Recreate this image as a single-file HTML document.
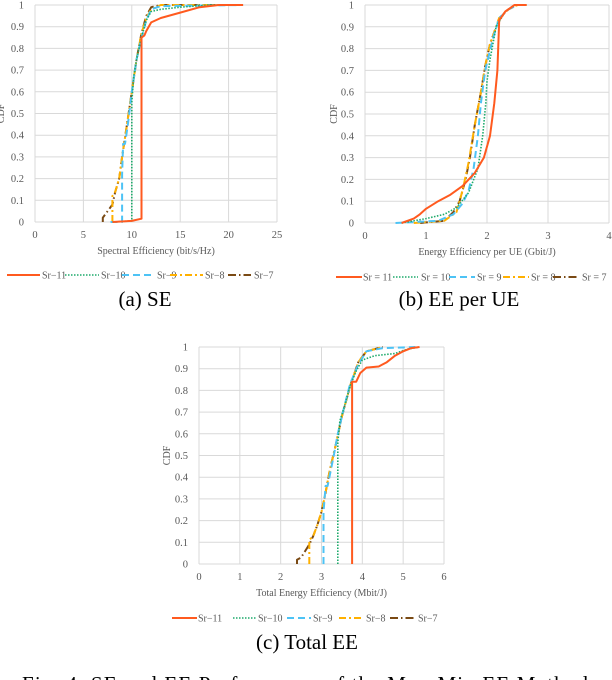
<!DOCTYPE html>
<html><head><meta charset="utf-8">
<style>
html,body{margin:0;padding:0;background:#fff;}
svg{display:block;font-family:"Liberation Serif",serif;}
</style></head>
<body>
<svg id="fig" width="612" height="680" viewBox="0 0 612 680" xmlns="http://www.w3.org/2000/svg"></svg>
<script>
// ---- Data: chart (a) Spectral Efficiency ----
const seTicksX = [0,5,10,15,20,25];
const seSr11 = [[8,0],[10,0.005],[11,0.015],[11,0.85],[11.3,0.86],[11.5,0.88],[12,0.92],[13,0.94],[15,0.965],[17,0.99],[19,1],[21.5,1]];
const seSr10 = [[8,0],[10,0.005],[10,0.55],[10.2,0.67],[10.5,0.75],[11,0.85],[11.5,0.93],[12,0.97],[13,0.98],[15,0.99],[18,1],[21.3,1]];
const seSr9 = [[7.8,0],[9,0],[9,0.22],[9.1,0.36],[9.3,0.36],[9.6,0.45],[10,0.6],[10.5,0.75],[11,0.85],[11.5,0.93],[12,0.98],[13,0.995],[21.5,1]];
const seSr8 = [[8,0],[8,0.12],[8.3,0.14],[8.7,0.2],[9,0.3],[9.5,0.45],[10,0.6],[10.5,0.75],[11,0.87],[11.5,0.94],[12,0.98],[13,1],[21,1]];
const seSr7 = [[7,0],[7,0.02],[7.5,0.05],[8,0.08],[8.3,0.14],[8.7,0.2],[9,0.3],[9.5,0.45],[10,0.6],[10.5,0.75],[11,0.87],[11.5,0.95],[12,0.99],[13,1],[21,1]];
// ---- Data: chart (b) EE per UE ----
const eeTicksX = [0,1,2,3,4];
const eeSr11 = [[0.6,0],[0.8,0.02],[0.9,0.04],[1,0.065],[1.2,0.1],[1.4,0.13],[1.6,0.17],[1.8,0.23],[1.95,0.3],[2.05,0.4],[2.12,0.55],[2.17,0.7],[2.2,0.93],[2.3,0.97],[2.45,1],[2.65,1]];
const eeSr10 = [[0.6,0],[1,0.02],[1.3,0.04],[1.5,0.07],[1.7,0.14],[1.85,0.25],[1.93,0.4],[1.98,0.55],[2.0,0.65],[2.05,0.75],[2.15,0.9],[2.3,0.97],[2.45,1],[2.65,1]];
const eeSr9 = [[0.5,0],[1.2,0.01],[1.45,0.04],[1.6,0.09],[1.7,0.15],[1.78,0.25],[1.85,0.4],[1.9,0.55],[1.97,0.7],[2.1,0.85],[2.2,0.94],[2.35,0.98],[2.5,1],[2.65,1]];
const eeSr8 = [[0.8,0],[1.3,0.01],[1.5,0.05],[1.6,0.15],[1.7,0.28],[1.8,0.45],[1.9,0.6],[1.97,0.72],[2.05,0.82],[2.2,0.94],[2.35,0.98],[2.5,1],[2.65,1]];
const eeSr7 = [[0.9,0],[1.3,0.01],[1.45,0.05],[1.55,0.1],[1.65,0.2],[1.72,0.3],[1.8,0.45],[1.9,0.6],[1.97,0.72],[2.05,0.82],[2.2,0.94],[2.35,0.98],[2.5,1],[2.65,1]];
// ---- Data: chart (c) Total EE ----
const teTicksX = [0,1,2,3,4,5,6];
const teSr11 = [[3.75,0],[3.75,0.84],[3.85,0.84],[3.95,0.88],[4.1,0.905],[4.4,0.91],[4.6,0.93],[4.8,0.96],[5,0.98],[5.2,0.995],[5.4,1]];
const teSr10 = [[3.4,0],[3.4,0.56],[3.45,0.66],[3.55,0.72],[3.7,0.82],[3.85,0.89],[4,0.94],[4.3,0.96],[4.8,0.97],[5.1,0.99],[5.4,1]];
const teSr9 = [[3.05,0],[3.05,0.24],[3.1,0.36],[3.15,0.36],[3.3,0.5],[3.4,0.6],[3.55,0.72],[3.7,0.83],[3.9,0.92],[4.1,0.98],[4.5,0.995],[5.3,1]];
const teSr8 = [[2.7,0],[2.7,0.11],[2.8,0.13],[2.9,0.18],[3,0.24],[3.1,0.33],[3.2,0.43],[3.35,0.55],[3.5,0.68],[3.7,0.82],[3.9,0.93],[4.1,0.98],[4.5,1]];
const teSr7 = [[2.4,0],[2.4,0.02],[2.5,0.03],[2.6,0.06],[2.7,0.09],[2.8,0.13],[2.9,0.18],[3,0.24],[3.1,0.33],[3.2,0.43],[3.35,0.55],[3.5,0.68],[3.7,0.82],[3.9,0.93],[4.1,0.98],[4.5,1]];
const yTicks = [0,0.1,0.2,0.3,0.4,0.5,0.6,0.7,0.8,0.9,1];
const yTickLabels = ["0","0.1","0.2","0.3","0.4","0.5","0.6","0.7","0.8","0.9","1"];

const NS = "http://www.w3.org/2000/svg";
const svg = document.getElementById('fig');
function mk(tag, attrs, parent){const e=document.createElementNS(NS,tag);for(const k in attrs)e.setAttribute(k,attrs[k]);(parent||svg).appendChild(e);return e;}
const styles = [
 {c:"#FF5A1F",w:2,d:""},
 {c:"#1DAA6B",w:1.6,d:"1.5 1.5"},
 {c:"#4DC3F5",w:2,d:"7 4"},
 {c:"#FFB000",w:2,d:"7 3 2 3"},
 {c:"#7A4A14",w:2,d:"8 3 1.5 3"}
];
const seriesNames = ["sr-11","sr-10","sr-9","sr-8","sr-7"];

function chart(cfg){
  const g = mk('g',{});
  
  
  const xs = v => cfg.x0 + (v - cfg.xmin)/(cfg.xmax-cfg.xmin)*(cfg.x1-cfg.x0);
  const ys = v => cfg.y0 - v*(cfg.y0-cfg.y1);
  yTicks.forEach((t,i)=>{
    const l = mk('line',{x1:cfg.x0,x2:cfg.x1,y1:ys(t),y2:ys(t),stroke:"#d9d9d9","stroke-width":1},g);
    
    
    const tx = mk('text',{x:cfg.x0-11,y:ys(t)+3.5,"text-anchor":"end","font-size":10.5,fill:"#595959"},g);
    
    
    tx.textContent = yTickLabels[i];
  });
  cfg.ticksX.forEach(t=>{
    const l = mk('line',{x1:xs(t),x2:xs(t),y1:cfg.y1,y2:cfg.y0,stroke:"#d9d9d9","stroke-width":1},g);
    
    
    const tx = mk('text',{x:xs(t),y:cfg.y0+16,"text-anchor":"middle","font-size":10.5,fill:"#595959"},g);
    
    
    tx.textContent = t;
  });
  const xt = mk('text',{x:(cfg.x0+cfg.x1)/2,y:cfg.y0+32,"text-anchor":"middle","font-size":10,fill:"#595959"},g);
  
  
  xt.textContent = cfg.xtitle;
  const yt = mk('text',{x:0,y:0,"text-anchor":"middle","font-size":10,fill:"#595959",transform:`translate(${cfg.ylabX},${(cfg.y0+cfg.y1)/2}) rotate(-90)`},g);
  
  
  yt.textContent = "CDF";
  for(let i=cfg.series.length-1;i>=0;i--){
    const s = styles[i];
    const pts = cfg.series[i].map(p=>xs(p[0]).toFixed(1)+","+ys(p[1]).toFixed(1)).join(" ");
    const pl = mk('polyline',{points:pts,fill:"none",stroke:s.c,"stroke-width":s.w,"stroke-dasharray":s.d,"stroke-linejoin":"round"},g);
    
    
  }
  cfg.legend.forEach((L,i)=>{
    const s = styles[i];
    const lg = mk('g',{},g);
    
    
    mk('line',{x1:L[0],x2:L[1],y1:cfg.legY,y2:cfg.legY,stroke:s.c,"stroke-width":s.w,"stroke-dasharray":s.d},lg);
    const t = mk('text',{x:L[2],y:cfg.legY+3.5,"font-size":10,fill:"#595959"},lg);
    t.textContent = cfg.legLabels[i];
  });
  const cap = mk('text',{x:cfg.capX,y:cfg.capY,"text-anchor":"middle","font-size":21,fill:"#000"},g);
  
  
  cap.textContent = cfg.caption;
}

chart({name:"chart-se",x0:35,x1:277,y0:222,y1:5,xmin:0,xmax:25,ticksX:seTicksX,
  series:[seSr11,seSr10,seSr9,seSr8,seSr7],xtitle:"Spectral Efficiency (bit/s/Hz)",ylabX:4,
  legY:275,legend:[[7,40,42],[65,99,101],[122,155,157],[170,203,205],[228,251,254]],
  legLabels:["Sr−11","Sr−10","Sr−9","Sr−8","Sr−7"],caption:"(a) SE",capX:145,capY:306});
chart({name:"chart-ee-per-ue",x0:365,x1:609,y0:223,y1:5,xmin:0,xmax:4,ticksX:eeTicksX,
  series:[eeSr11,eeSr10,eeSr9,eeSr8,eeSr7],xtitle:"Energy Efficiency per UE (Gbit/J)",ylabX:337,
  legY:277,legend:[[336,362,363],[393,418,421],[449,475,477],[503,529,531],[553,578,582]],
  legLabels:["Sr = 11","Sr = 10","Sr = 9","Sr = 8","Sr = 7"],caption:"(b) EE per UE",capX:459,capY:306});
chart({name:"chart-total-ee",x0:199,x1:444,y0:564,y1:347,xmin:0,xmax:6,ticksX:teTicksX,
  series:[teSr11,teSr10,teSr9,teSr8,teSr7],xtitle:"Total Energy Efficiency (Mbit/J)",ylabX:170,
  legY:618,legend:[[172,197,198],[233,256,258],[287,311,313],[339,363,366],[390,414,418]],
  legLabels:["Sr−11","Sr−10","Sr−9","Sr−8","Sr−7"],caption:"(c) Total EE",capX:307,capY:649});

const fc = mk('text',{x:22,y:691,"font-size":21,fill:"#000",textLength:566,lengthAdjust:"spacing"});


fc.textContent = "Fig. 4.  SE and EE Performance of the Max-Min EE Method";
</script>
</body></html>
